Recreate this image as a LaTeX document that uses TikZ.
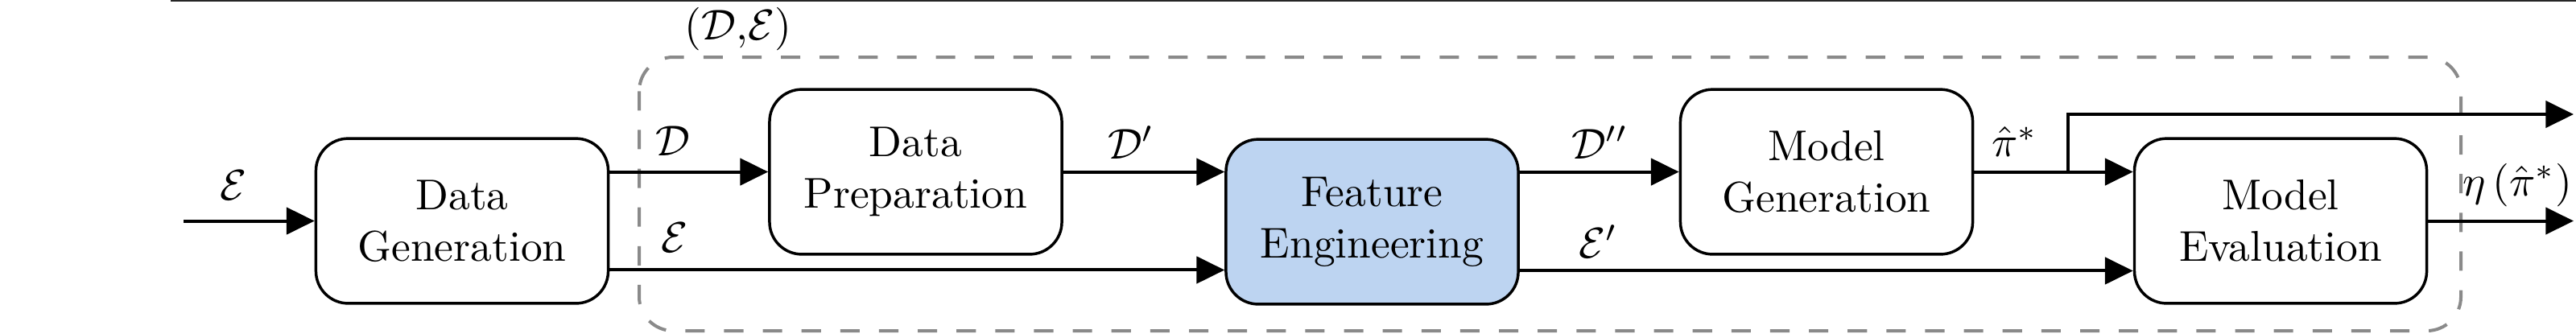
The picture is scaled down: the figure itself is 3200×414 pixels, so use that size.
\documentclass[tikz,border=0pt]{standalone}
\usetikzlibrary{arrows.meta,calc}
\definecolor{feblue}{RGB}{189,212,241}
\definecolor{dashgray}{RGB}{138,138,138}
\begin{document}
\begin{tikzpicture}[x=0.187pt,y=-0.187pt,
  blk/.style={draw, line width=0.65pt, rounded corners=7.5pt, minimum width=67.9pt, minimum height=38.3pt, align=center, inner sep=0pt},
  conn/.style={line width=0.75pt, -{Triangle[length=6.5pt,width=6.2pt]}},
  lbl/.style={inner sep=0pt},
  grp/.style={dashgray, line width=0.75pt, dash pattern=on 4.5pt off 4.5pt, rounded corners=7.9pt}]
\useasboundingbox (0,0) rectangle (3200,414);
\draw[line width=0.3pt, black!85] (212,0.8) -- (3200,0.8);
\draw[grp] (794,71) rectangle (3057,411);
\node[lbl] (grplbl) at (917,36) {$(\mathcal{D}{,}\mathcal{E})$};

\node[blk] (dg) at (574,274.5) {Data\\Generation};
\node[blk] (dp) at (1137.5,213.5) {Data\\Preparation};
\node[blk, fill=feblue] (fe) at (1704.5,275.5) {Feature\\Engineering};
\node[blk] (mg) at (2269,213.5) {Model\\Generation};
\node[blk] (me) at (2833,274.5) {Model\\Evaluation};

\coordinate (in) at (228,274.5);
\coordinate (outtop) at (3197,142);
\coordinate (outeta) at (3197,274.5);
\coordinate (dgl) at ([yshift=-11.4pt]dg.east);
\coordinate (fel) at ([yshift=-11.4pt]fe.east);
\coordinate (br) at ($(mg.east)!0.593!(mg.east -| me.west)$);

\draw[conn] (in) -- (dg.west);
\draw[conn] (dg.east |- dp.west) -- (dp.west);
\draw[conn] (dgl) -- (dgl -| fe.west);
\draw[conn] (dp.east) -- (dp.east -| fe.west);
\draw[conn] (fe.east |- mg.west) -- (mg.west);
\draw[conn] (fel) -- (fel -| me.west);
\draw[conn] (mg.east) -- (mg.east -| me.west);
\draw[conn] (br) |- (outtop);
\draw[conn] (me.east) -- (outeta);

\node[lbl] (l1) at (290,230) {$\mathcal{E}$};
\node[lbl] (l2) at (836,175) {$\mathcal{D}$};
\node[lbl] (l3) at (838,295) {$\mathcal{E}$};
\node[lbl] (l4) at (1405,177) {$\mathcal{D}'$};
\node[lbl] (l5) at (1987,177) {$\mathcal{D}''$};
\node[lbl] (l6) at (1985,300) {$\mathcal{E}'$};
\node[lbl] (l7) at (2503,176) {$\hat{\pi}^*$};
\node[lbl] (l8) at (3127,230) {$\eta\left(\hat{\pi}^*\right)$};
\end{tikzpicture}
\end{document}
